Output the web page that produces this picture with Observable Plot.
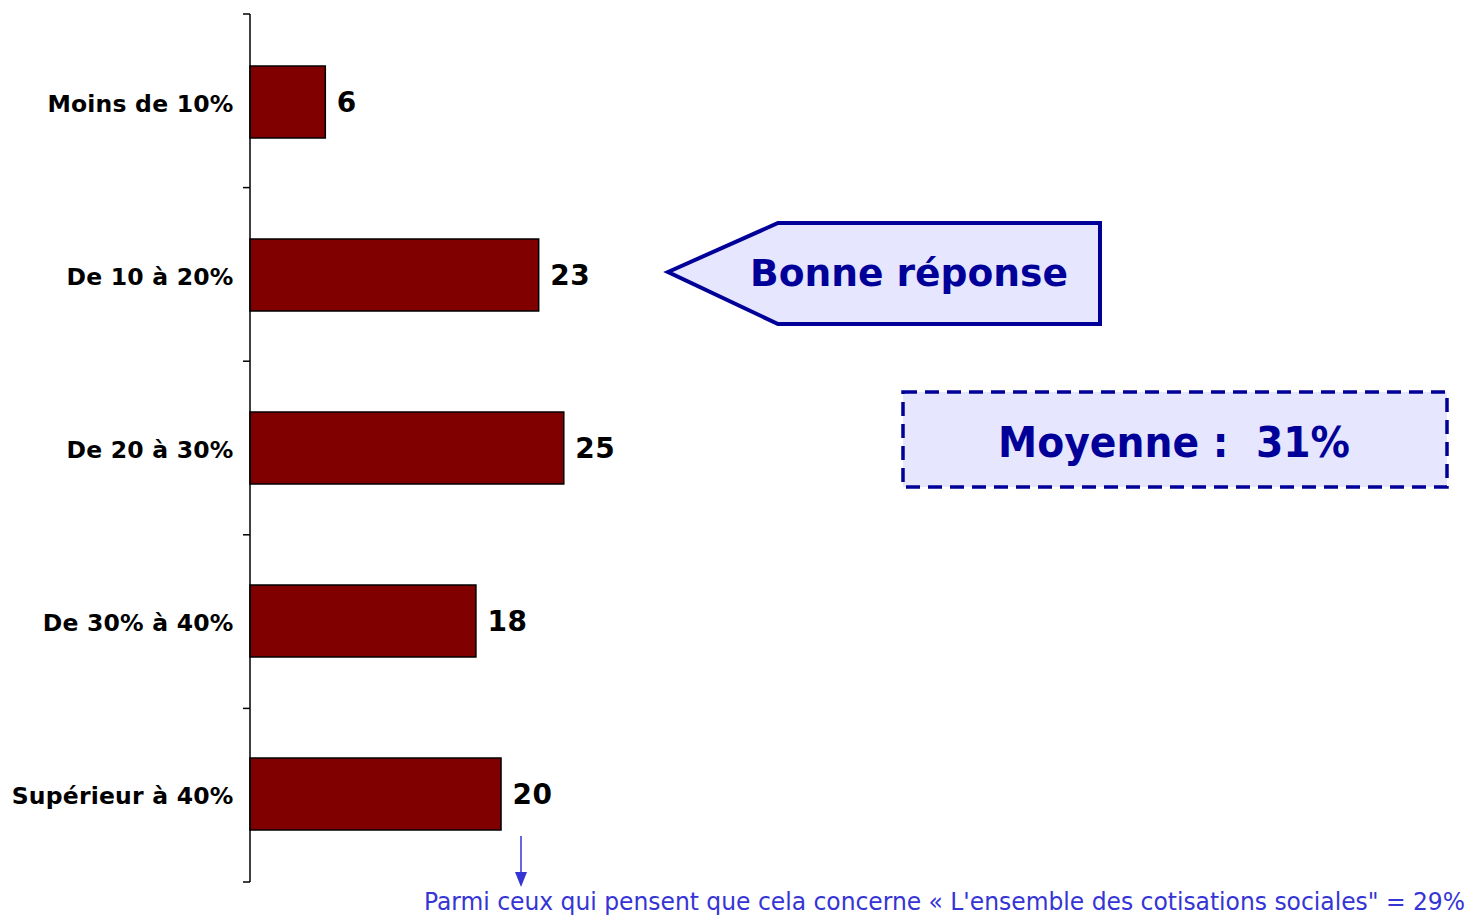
<!DOCTYPE html>
<html>
<head>
<meta charset="utf-8">
<script src="https://cdn.jsdelivr.net/npm/d3@7"></script>
<script src="https://cdn.jsdelivr.net/npm/@observablehq/plot@0.6"></script>
<style>
  html, body { margin: 0; padding: 0; background: white; }
  #chart svg { display: block; }
  .ylab text { letter-spacing: 0.2px; }
  .vlab text { letter-spacing: 0.6px; }
</style>
</head>
<body>
<div id="chart"></div>
<script>
const categories = ["Moins de 10%", "De 10 à 20%", "De 20 à 30%", "De 30% à 40%", "Supérieur à 40%"];
const values = [6, 23, 25, 18, 20];
const calloutText = "Bonne réponse";
const averageText = "Moyenne :  31%";
const footnoteText = "Parmi ceux qui pensent que cela concerne « L'ensemble des cotisations sociales\" = 29%";

const data = categories.map((c, i) => ({category: c, value: values[i]}));
const FONT = "Tahoma, 'DejaVu Sans', sans-serif";

const plot = Plot.plot({
  width: 1470,
  height: 916,
  marginLeft: 250,
  marginRight: 0,
  marginTop: 14,
  marginBottom: 34,
  style: {fontFamily: FONT, background: "white", color: "black"},
  x: {domain: [0, 97.2], axis: null},
  y: {domain: categories, paddingInner: 0.585, paddingOuter: 0.2925, axis: null},
  marks: [
    Plot.barX(data, {x: "value", y: "category", fill: "#800000", stroke: "black", strokeWidth: 1.5}),
    Plot.text(data, {x: "value", y: "category", text: d => String(d.value), textAnchor: "start", dx: 11, dy: 1, fontSize: 28, fontWeight: "bold", fill: "black", className: "vlab"}),
    Plot.axisY({tickSize: 0, tickPadding: 17, fontSize: 23.5, fontWeight: "bold", fill: "black", label: null, dy: 2, className: "ylab"}),
    Plot.ruleX([0], {stroke: "black", strokeWidth: 1.5, dx: -0.5})
  ]
});
document.getElementById("chart").appendChild(plot);

const svg = d3.select(plot);
const ys = plot.scale("y");
const [r0, r1] = ys.range;
const step = (r1 - r0) / categories.length;
const boundaries = d3.range(categories.length + 1).map(i => r0 + i * step);
svg.append("g").selectAll("line").data(boundaries).join("line")
  .attr("x1", 243).attr("x2", 250).attr("y1", d => d).attr("y2", d => d)
  .attr("stroke", "black").attr("stroke-width", 1.5);

// Callout "Bonne réponse"
const navy = "#000099";
const lav = "#E6E6FF";
svg.append("path")
  .attr("d", "M668,272 L778,223 L1100,223 L1100,324 L778,324 Z")
  .attr("fill", lav).attr("stroke", navy).attr("stroke-width", 4).attr("stroke-linejoin", "miter");
svg.append("text")
  .attr("x", 909).attr("y", 286).attr("text-anchor", "middle")
  .attr("font-family", FONT).attr("font-weight", "bold").attr("font-size", 38)
  .attr("fill", navy).attr("textLength", 318).attr("lengthAdjust", "spacingAndGlyphs")
  .text(calloutText);

// Average box
svg.append("rect")
  .attr("x", 903).attr("y", 392).attr("width", 544).attr("height", 95)
  .attr("fill", lav).attr("stroke", navy).attr("stroke-width", 3.5).attr("stroke-dasharray", "14,8");
svg.append("text")
  .attr("x", 1174).attr("y", 457).attr("text-anchor", "middle")
  .attr("font-family", FONT).attr("font-weight", "bold").attr("font-size", 43)
  .attr("fill", navy).attr("textLength", 352).attr("lengthAdjust", "spacingAndGlyphs")
  .style("white-space", "pre")
  .text(averageText);

// Footnote with arrow
const blue = "#3535D5";
svg.append("line").attr("x1", 521).attr("x2", 521).attr("y1", 836).attr("y2", 874)
  .attr("stroke", blue).attr("stroke-width", 1.5);
svg.append("path").attr("d", "M515,872 L527,872 L521,887 Z").attr("fill", blue);
svg.append("text")
  .attr("x", 424).attr("y", 910).attr("text-anchor", "start")
  .attr("font-family", "'Liberation Sans Narrow', 'DejaVu Sans Condensed', 'DejaVu Sans', sans-serif")
  .attr("font-size", 25).attr("fill", blue)
  .attr("textLength", 1041).attr("lengthAdjust", "spacingAndGlyphs")
  .text(footnoteText);
</script>
</body>
</html>
